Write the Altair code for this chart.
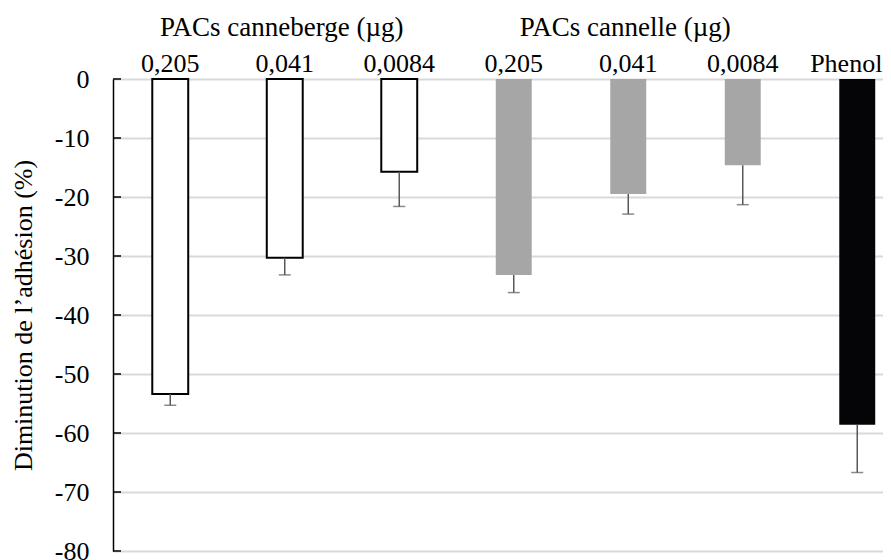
import altair as alt
import pandas as pd

# ---- data ----
dose_labels = ["0,205", "0,041", "0,0084", "0,205", "0,041", "0,0084", "Phenol"]
groups = ["cran", "cran", "cran", "cinn", "cinn", "cinn", "phenol"]
means = [-53.4, -30.3, -15.7, -33.2, -19.5, -14.6, -58.6]
errors = [1.9, 2.9, 5.9, 3.0, 3.4, 6.7, 8.1]
group_titles = ["PACs canneberge (\u00b5g)", "PACs cannelle (\u00b5g)"]
group_title_pos = [1, 4]
y_ticks = [0, -10, -20, -30, -40, -50, -60, -70, -80]

FONT = "Liberation Serif"
FS = 26

df = pd.DataFrame({
    "idx": list(range(len(dose_labels))),
    "grp": groups,
    "mean": means,
    "low": [m - e for m, e in zip(means, errors)],
})
titles_df = pd.DataFrame({"idx": group_title_pos, "txt": group_titles})
ticks_df = pd.DataFrame({"v": y_ticks})

label_expr = "[" + ",".join("'" + s + "'" for s in dose_labels) + "][datum.value]"

xscale = alt.Scale(range=[0, 801.5], paddingInner=0.686, paddingOuter=0.343)
yscale = alt.Scale(domain=[-80, 0], nice=False, zero=False)

x_enc = alt.X(
    "idx:O",
    scale=xscale,
    axis=alt.Axis(
        orient="top", title=None, labelExpr=label_expr, labelAngle=0,
        domain=False, ticks=False, labelFont=FONT, labelFontSize=FS,
        labelColor="#000000", labelPadding=3, grid=False,
        labelOffset={"condition": {"test": "datum.value == 6", "value": -11}, "value": 0},
    ),
)
y_enc = alt.Y(
    "mean:Q",
    scale=yscale,
    axis=alt.Axis(
        values=y_ticks, title="Diminution de l\u2019adhésion (%)",
        labelExpr="datum.value == 0 ? '0' : '-' + abs(datum.value)",
        titleFont=FONT, titleFontSize=FS, titleFontWeight="normal",
        titleColor="#000000", titlePadding=18,
        labelFont=FONT, labelFontSize=FS, labelColor="#000000",
        labelPadding=24, ticks=False, domain=True, domainColor="#000000",
        domainWidth=1.5, grid=True, gridColor="#d9d9d9", gridWidth=2,
    ),
)

base = alt.Chart(df)

bars_white = base.transform_filter("datum.grp == 'cran'").mark_bar(
    fill="#ffffff", stroke="#000000", strokeWidth=2
).encode(x=x_enc, y=y_enc, y2=alt.datum(0))

bars_fill = base.transform_filter("datum.grp != 'cran'").mark_bar().encode(
    x=x_enc,
    y=y_enc,
    y2=alt.datum(0),
    color=alt.Color(
        "grp:N",
        scale=alt.Scale(domain=["cinn", "phenol"], range=["#a6a6a6", "#050508"]),
        legend=None,
    ),
)

err_rule = base.mark_rule(color="#595959", strokeWidth=1.5).encode(
    x=x_enc, y=alt.Y("mean:Q", scale=yscale), y2="low:Q"
)
err_cap = base.mark_tick(color="#595959", thickness=1.5, size=12).encode(
    x=x_enc, y=alt.Y("low:Q", scale=yscale)
)

inner_ticks = alt.Chart(ticks_df).mark_rule(color="#000000", strokeWidth=1.5).encode(
    y=alt.Y("v:Q", scale=yscale), x=alt.value(0), x2=alt.value(8)
)

titles = alt.Chart(titles_df).mark_text(
    font=FONT, fontSize=27, color="#000000", baseline="middle", align="center", dx=-3
).encode(
    x=alt.X("idx:O", scale=xscale),
    y=alt.value(-51),
    text="txt:N",
)

chart = alt.layer(
    bars_white, bars_fill, err_rule, err_cap, inner_ticks, titles
).properties(
    width=770,
    height=472,
    padding={"left": 105, "top": 71, "right": 0, "bottom": 9},
    autosize=alt.AutoSizeParams(type="none"),
    background="#ffffff",
).configure_view(stroke=None)

chart.save("out.html", embed_options={"renderer": "svg", "actions": False})
